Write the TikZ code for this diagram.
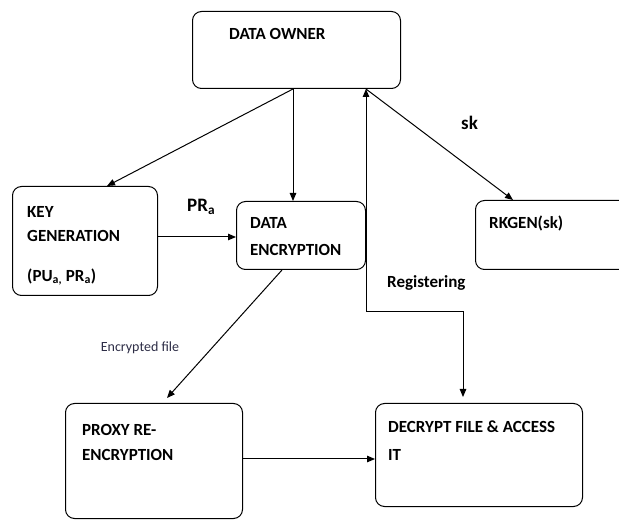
\documentclass[tikz,border=0pt]{standalone}
\usepackage{fontspec}
\setmainfont{Carlito}
\usetikzlibrary{arrows.meta,calc}
\definecolor{smallgray}{RGB}{45,45,70}
\begin{document}
\begin{tikzpicture}[x=1pt,y=-1pt,
  box/.style={draw, rounded corners=9pt, line width=1pt, anchor=north west, inner sep=0pt},
  lbl/.style={anchor=west, font=\bfseries\fontsize{17}{19}\selectfont, inner sep=0pt},
  big/.style={anchor=west, font=\bfseries\fontsize{19}{21}\selectfont, inner sep=0pt},
  small/.style={anchor=center, font=\fontsize{14}{16}\selectfont, inner sep=0pt, text=smallgray},
  arr/.style={-{Triangle[length=8pt,width=6.5pt]}, line width=1pt}]
\useasboundingbox (0,0) rectangle (619,521);
% boxes
\node[box, minimum width=208pt, minimum height=77pt] (owner) at (192,11) {};
\node[box, minimum width=145pt, minimum height=109pt] (keygen) at (12,186) {};
\node[box, minimum width=129pt, minimum height=68pt] (enc) at (236,201) {};
\node[box, minimum width=155pt, minimum height=69pt] (rkgen) at (475,200) {};
\node[box, minimum width=177pt, minimum height=115pt] (proxy) at (65,403) {};
\node[box, minimum width=207pt, minimum height=103pt] (dec) at (375,403) {};
% texts
\node[lbl] (towner) at (229,34) {DATA OWNER};
\node[lbl] (tkey1) at (27,212) {KEY};
\node[lbl] (tkey2) at (27,236) {GENERATION};
\node[lbl] (tkey3) at (27,277) {(PU\textsubscript{a,} PR\textsubscript{a})};
\node[lbl] (tenc1) at (250,223) {DATA};
\node[lbl] (tenc2) at (250,250) {ENCRYPTION};
\node[lbl] (trk) at (489,223) {RKGEN(sk)};
\node[lbl] (tpr1) at (82,430) {PROXY RE-};
\node[lbl] (tpr2) at (82,455) {ENCRYPTION};
\node[lbl] (tdec1) at (388,427) {DECRYPT FILE \& ACCESS};
\node[lbl] (tdec2) at (388,455) {IT};
% edge labels
\node[big] (lpr) at (187,207) {PR\textsubscript{a}};
\node[big] (lsk) at (461,123) {sk};
\node[lbl] (lreg) at (387,283) {Registering};
\node[small] (lfile) at (140,348) {Encrypted file};
% connector points
\coordinate (ob) at ($(owner.south west)+(101,0)$);
\coordinate (ou) at ($(owner.south west)+(174,0)$);
\coordinate (j1) at (366,312);
% connectors
\draw[arr] (ob) -- ($(keygen.north west)+(95,0)$);
\draw[arr] (ob) -- (ob |- enc.north);
\draw[arr] (keygen.east |- 0,237) -- (enc.west |- 0,237);
\draw[arr] (ou) -- ($(rkgen.north west)+(38,0)$);
\draw[arr] (j1) -- (ou);
\draw[arr] (j1) -| ($(dec.north west)+(88,-6)$);
\draw[arr] ($(enc.south west)+(46,0)$) -- ($(proxy.north west)+(102,-5)$);
\draw[arr] (proxy.east |- 0,459) -- (dec.west |- 0,459);
\end{tikzpicture}
\end{document}
